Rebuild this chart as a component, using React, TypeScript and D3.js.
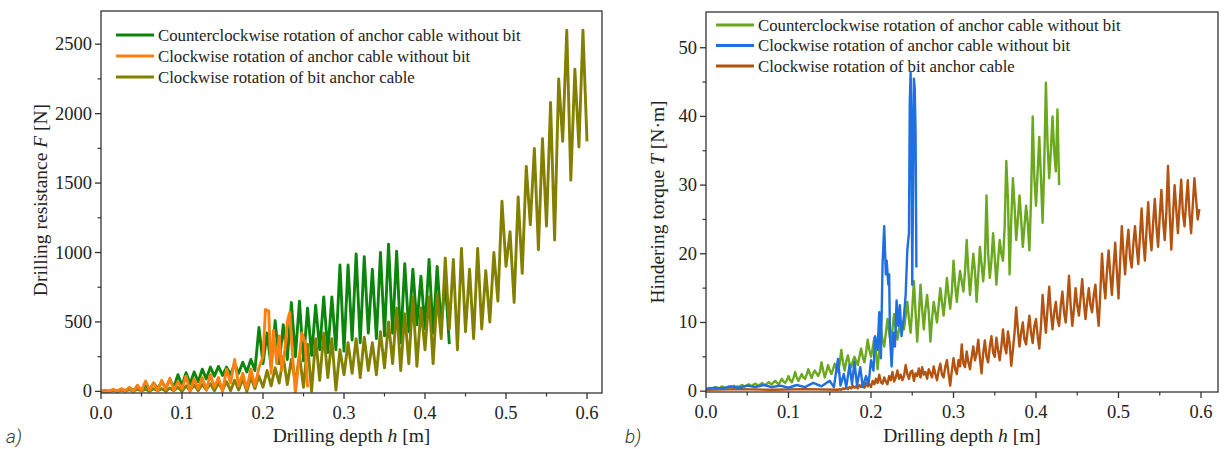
import React from "react";
import * as d3 from "d3";

// ---------- data (panel a: drilling resistance F [N]) ----------
const leftStep = 0.005; // depth step [m]
const forceCCW = [
  0, 5, 0, 10, 2, 15, 5, 25, 8, 35,
  10, 45, 15, 60, 20, 70, 25, 85, 30, 120,
  40, 135, 55, 140, 70, 160, 90, 175, 110, 180,
  115, 175, 120, 200, 130, 210, 140, 230, 150, 460,
  200, 420, 180, 510, 200, 480, 230, 640, 250, 650,
  220, 600, 260, 620, 300, 680, 280, 680, 300, 910,
  290, 910, 370, 990, 350, 970, 420, 880, 380, 1000,
  400, 1060, 420, 1010, 350, 920, 430, 880, 480, 830,
  450, 950, 420, 900, 470, 800, 340,
];
const forceCWPairs: [number, number][] = [
  [0, 0], [0.005, 8], [0.01, 0], [0.015, 15], [0.02, 0], [0.025, 20], [0.03, 5], [0.035, 30],
  [0.04, 0], [0.045, 45], [0.05, 5], [0.055, 75], [0.06, 10], [0.065, 60], [0.07, 5], [0.075, 80],
  [0.08, 15], [0.085, 95], [0.09, 10], [0.095, 70], [0.1, 20], [0.105, 110], [0.11, 0], [0.115, 90],
  [0.12, 20], [0.125, 100], [0.13, 10], [0.135, 120], [0.14, 30], [0.145, 100], [0.15, 0], [0.155, 160],
  [0.16, 60], [0.165, 230], [0.17, 40], [0.175, 130], [0.18, 20], [0.185, 160], [0.19, 40], [0.195, 170],
  [0.2, 250], [0.203, 590], [0.207, 580], [0.21, 130], [0.213, 440], [0.217, 200], [0.22, 400],
  [0.223, 150], [0.227, 300], [0.23, 500], [0.233, 570], [0.236, 300], [0.24, -10], [0.244, 200],
  [0.248, 420], [0.252, 350], [0.255, 30],
];
const forceBit = [
  0, 5, 0, 8, 0, 10, 2, 12, 0, 15,
  3, 15, 0, 20, 5, 20, 0, 25, 5, 30,
  0, 40, 5, 45, 5, 50, 10, 55, 5, 60,
  10, 70, 5, 80, 10, 90, 0, 100, 20, 110,
  30, 150, 40, 170, 60, 250, 50, 230, 60, 260,
  30, 340, 0, 380, 80, 420, 100, 380, 10, 300,
  120, 350, 130, 380, 100, 390, 150, 350, 120, 430,
  170, 500, 200, 600, 150, 560, 200, 680, 180, 600,
  300, 680, 200, 700, 380, 960, 450, 950, 300, 1030,
  430, 880, 380, 1030, 450, 870, 500, 1000, 650, 1370,
  900, 1150, 640, 1400, 850, 1620, 1200, 1750, 1020, 1820,
  1190, 2080, 1090, 2250, 1800, 2600, 1520, 2320, 1760, 2600,
  1800,
];

// ---------- data (panel b: hindering torque T [N·m]) ----------
const torqueStep = 0.002;
const torqueCCW = [
  0.3, 0.4, 0.5, 0.4, 0.4, 0.5, 0.6, 0.5, 0.4, 0.6,
  0.7, 0.5, 0.5, 0.6, 0.7, 0.6, 0.6, 0.8, 0.6, 0.7,
  0.6, 0.8, 0.9, 0.7, 0.7, 0.9, 1.0, 0.8, 0.8, 1.0,
  1.1, 0.9, 0.8, 1.0, 1.2, 1.0, 0.9, 1.1, 1.3, 1.1,
  1.0, 1.3, 1.5, 1.2, 1.0, 1.4, 1.8, 1.4, 1.2, 1.6,
  2.2, 1.6, 1.3, 1.9, 2.8, 2.0, 1.5, 2.0, 2.5, 2.0,
  1.8, 2.4, 3.2, 2.5, 1.9, 2.6, 3.0, 2.6, 2.2, 2.8,
  4.2, 3.0, 2.0, 2.9, 3.8, 3.0, 2.5, 3.2, 4.0, 3.3,
  2.8, 4.0, 6.0, 4.2, 3.0, 4.3, 5.2, 4.0, 3.5, 4.4,
  5.0, 4.4, 3.8, 5.0, 6.2, 5.0, 4.2, 5.6, 7.5, 6.0,
  5.0, 6.2, 7.8, 5.5, 3.2, 6.0, 9.0, 7.5, 6.5, 8.5,
  10.5, 8.6, 7.0, 9.0, 11.2, 9.2, 7.5, 9.0, 10.0, 9.5,
  9.0, 11.0, 13.0, 10.5, 8.5, 12.0, 16.0, 11.5, 7.2, 11.0,
  15.5, 12.0, 9.0, 12.0, 14.0, 11.5, 7.2, 10.5, 13.0, 11.5,
  10.0, 12.5, 15.0, 13.0, 11.0, 13.5, 16.5, 14.0, 12.0, 14.5,
  19.0, 15.5, 13.0, 15.5, 17.5, 16.0, 14.5, 17.5, 22.0, 17.5,
  14.0, 17.0, 20.0, 17.5, 13.0, 17.0, 21.0, 18.5, 16.0, 19.0,
  28.5, 20.0, 16.5, 19.0, 23.0, 19.5, 15.5, 19.0, 22.0, 20.0,
  19.0, 24.0, 33.5, 28.0, 17.0, 25.0, 31.0, 27.0, 22.0, 25.0,
  28.5, 25.0, 21.0, 24.0, 27.0, 24.5, 20.5, 28.0, 40.0, 31.0,
  27.0, 32.0, 37.0, 31.0, 24.5, 33.0, 44.9, 36.0, 31.0, 35.0,
  40.0, 35.0, 32.0, 41.0, 30.0,
];
const torqueCWPairs: [number, number][] = [
  [0, 0.3], [0.01, 0.5], [0.02, 0.4], [0.03, 0.7], [0.04, 0.5], [0.05, 0.8], [0.06, 0.6],
  [0.07, 0.9], [0.08, 0.6], [0.09, 0.8], [0.1, 0.5], [0.11, 0.9], [0.12, 0.6], [0.13, 1.2],
  [0.14, 0.7], [0.15, 1.5], [0.155, 0.6], [0.16, 4.7], [0.163, 0.8], [0.167, 2.5], [0.17, 0.6],
  [0.174, 3.8], [0.177, 1.0], [0.18, 4.3], [0.183, 0.8], [0.187, 3.5], [0.19, 0.6], [0.194, 2.2],
  [0.197, 1.0], [0.2, 4.5], [0.203, 3.0], [0.205, 8.0], [0.208, 6.0], [0.21, 11.5], [0.212, 4.8],
  [0.214, 18.5], [0.216, 24.0], [0.218, 17.0], [0.219, 19.0], [0.221, 15.5], [0.222, 17.0],
  [0.223, 8.0], [0.225, 3.6], [0.227, 8.5], [0.229, 6.5], [0.231, 13.2], [0.233, 9.5],
  [0.235, 12.5], [0.237, 8.0], [0.24, 11.0], [0.242, 14.0], [0.244, 20.5], [0.246, 23.0],
  [0.247, 42.0], [0.248, 46.4], [0.249, 40.0], [0.25, 15.5], [0.251, 30.0], [0.252, 45.5],
  [0.253, 44.0], [0.254, 38.0], [0.255, 18.0],
];
const torqueBitStart = 0.16; // depth where the bit-cable torque record becomes visible
const torqueBit = [
  0.2, 0.3, 0.2, 0.4, 0.3, 0.5, 0.3, 0.6, 0.4, 0.8,
  0.5, 0.7, 0.4, 0.9, 0.6, 1.0, 0.5, 1.2, 0.7, 1.0,
  0.6, 1.5, 1.0, 1.8, 1.2, 2.4, 1.3, 1.1, 2.0, 1.4,
  1.0, 2.2, 1.6, 2.8, 1.4, 2.0, 3.0, 1.8, 2.4, 1.6,
  2.2, 3.8, 2.5, 1.8, 2.8, 3.0, 1.5, 2.6, 2.2, 3.3,
  2.0, 3.5, 2.4, 2.8, 1.8, 3.2, 2.6, 2.0, 3.6, 2.5,
  1.6, 3.0, 4.0, 2.4, 2.0, 3.5, 4.5, 2.6, 0.8, 3.0,
  4.8, 3.2, 2.5, 4.5, 3.6, 6.8, 4.0, 3.5, 5.8, 4.2,
  3.2, 5.0, 6.5, 4.5, 5.5, 7.5, 4.8, 2.6, 5.5, 7.4,
  5.0, 4.2, 6.5, 8.0, 5.6, 5.0, 7.8, 6.0, 4.5, 6.5,
  9.0, 6.5, 5.5, 8.7, 7.0, 3.7, 6.0, 8.5, 12.2, 9.0,
  6.5, 8.5, 10.0, 7.5, 6.8, 9.0, 11.0, 8.5, 7.0, 9.5,
  10.5, 8.0, 6.2, 9.5, 14.0, 11.0, 8.5, 12.0, 15.2, 11.5,
  9.0, 11.5, 13.0, 10.5, 9.5, 12.5, 14.5, 11.5, 10.0, 13.0,
  16.8, 12.5, 9.5, 12.0, 15.0, 12.5, 11.0, 13.5, 16.3, 13.0,
  10.5, 13.0, 15.0, 12.5, 11.5, 14.0, 15.5, 12.0, 9.5, 14.5,
  20.0, 16.0, 13.5, 17.5, 20.5, 17.0, 14.0, 18.0, 21.6, 17.5,
  13.5, 19.0, 24.0, 20.0, 17.0, 21.0, 23.5, 19.5, 18.0, 21.5,
  24.0, 21.0, 18.5, 22.5, 26.6, 22.0, 19.0, 23.5, 27.5, 23.0,
  20.5, 24.5, 28.0, 24.0, 21.0, 25.5, 29.3, 25.0, 22.0, 26.0,
  32.8, 26.0, 20.6, 25.5, 30.0, 26.5, 23.0, 27.0, 30.8, 26.0,
  24.0, 27.5, 30.7, 26.0, 23.0, 27.0, 31.0, 28.0, 25.0, 26.5,
];
const torqueBitLead: [number, number][] = [
  [0, 0.2], [0.04, 0.3], [0.08, 0.2], [0.12, 0.3], [0.16, 0.2],
];

const xTicks = [0, 0.1, 0.2, 0.3, 0.4, 0.5, 0.6];
const xMinor = [0.05, 0.15, 0.25, 0.35, 0.45, 0.55];
const forceTicks = [0, 500, 1000, 1500, 2000, 2500];
const forceMinor = [250, 750, 1250, 1750, 2250];
const torqueTicks = [0, 10, 20, 30, 40, 50];
const torqueMinor = [5, 15, 25, 35, 45];

const legendLabels = [
  "Counterclockwise rotation of anchor cable without bit",
  "Clockwise rotation of anchor cable without bit",
  "Clockwise rotation of bit anchor cable",
];

const toPairs = (vals: number[], step: number, start = 0): [number, number][] =>
  vals.map((v, i) => [start + i * step, v]);

const SERIF = "'Liberation Serif', 'Times New Roman', serif";

type Series = { data: [number, number][]; color: string };
type PanelDef = {
  x0: number; x1: number; y0: number; y1: number;
  xDomain: [number, number]; yDomain: [number, number];
  yTicks: number[]; yMinor: number[];
  series: Series[]; legendColors: string[];
  legendX: number; legendY: number; legendDy: number;
  yTitle: React.ReactNode; yTitleX: number; yTitleY: number;
  tag: string; tagX: number; strokeW: number;
};

function Panel({ p }: { p: PanelDef }) {
  const x = d3.scaleLinear().domain(p.xDomain).range([p.x0, p.x1]);
  const y = d3.scaleLinear().domain(p.yDomain).range([p.y1, p.y0]);
  const line = d3.line<[number, number]>().x((d) => x(d[0])).y((d) => y(d[1]));
  const clipId = "clip" + p.tag.replace(")", "");
  const axisCol = "#333";
  return (
    <g>
      <defs>
        <clipPath id={clipId}>
          <rect x={p.x0} y={p.y0} width={p.x1 - p.x0} height={p.y1 - p.y0} />
        </clipPath>
      </defs>
      <g clipPath={`url(#${clipId})`}>
        {p.series.map((s, i) => (
          <path key={i} d={line(s.data) || ""} fill="none" stroke={s.color}
            strokeWidth={p.strokeW} strokeLinejoin="round" />
        ))}
      </g>
      <rect x={p.x0} y={p.y0} width={p.x1 - p.x0} height={p.y1 - p.y0}
        fill="none" stroke={axisCol} strokeWidth={1.3} />
      {xTicks.map((t) => (
        <g key={"xt" + t}>
          <line x1={x(t)} x2={x(t)} y1={p.y1} y2={p.y1 + 6} stroke={axisCol} strokeWidth={1.3} />
          <text x={x(t)} y={p.y1 + 26} textAnchor="middle" fontFamily={SERIF}
            fontSize={18.5} fill="#222">{t.toFixed(1)}</text>
        </g>
      ))}
      {xMinor.map((t) => (
        <line key={"xm" + t} x1={x(t)} x2={x(t)} y1={p.y1} y2={p.y1 + 3.5}
          stroke={axisCol} strokeWidth={1.2} />
      ))}
      {p.yTicks.map((t) => (
        <g key={"yt" + t}>
          <line x1={p.x0 - 6} x2={p.x0} y1={y(t)} y2={y(t)} stroke={axisCol} strokeWidth={1.3} />
          <text x={p.x0 - 9} y={y(t) + 6} textAnchor="end" fontFamily={SERIF}
            fontSize={18.5} fill="#222">{t}</text>
        </g>
      ))}
      {p.yMinor.map((t) => (
        <line key={"ym" + t} x1={p.x0 - 3.5} x2={p.x0} y1={y(t)} y2={y(t)}
          stroke={axisCol} strokeWidth={1.2} />
      ))}
      <text x={(p.x0 + p.x1) / 2} y={442} textAnchor="middle" fontFamily={SERIF}
        fontSize={19.5} fill="#222">
        Drilling depth <tspan fontStyle="italic">h</tspan> [m]
      </text>
      <text transform={`translate(${p.yTitleX},${p.yTitleY}) rotate(-90)`} textAnchor="middle"
        fontFamily={SERIF} fontSize={19.5} fill="#222">
        {p.yTitle}
      </text>
      {legendLabels.map((lab, i) => (
        <g key={"lg" + i}>
          <line x1={p.legendX} x2={p.legendX + 38} y1={p.legendY + i * p.legendDy}
            y2={p.legendY + i * p.legendDy} stroke={p.legendColors[i]} strokeWidth={3} />
          <text x={p.legendX + 42} y={p.legendY + i * p.legendDy + 5.5} fontFamily={SERIF}
            fontSize={16.8} fill="#222">{lab}</text>
        </g>
      ))}
      <text x={p.tagX} y={443} fontFamily="Roboto, 'Noto Sans', sans-serif" fontWeight={300}
        fontStyle="italic" fontSize={19} fill="#333">{p.tag}</text>
    </g>
  );
}

export default function App() {
  const leftColors = ["#0b860b", "#ff8010", "#838000"];
  const rightColors = ["#6aa81e", "#1f6fe0", "#b4530f"];
  const left: PanelDef = {
    x0: 101, x1: 602, y0: 11, y1: 393,
    xDomain: [0, 0.6185], yDomain: [-11.5, 2739],
    yTicks: forceTicks, yMinor: forceMinor,
    series: [
      { data: toPairs(forceCCW, leftStep), color: leftColors[0] },
      { data: toPairs(forceBit, leftStep), color: leftColors[2] },
      { data: forceCWPairs, color: leftColors[1] },
    ],
    legendColors: leftColors,
    legendX: 116, legendY: 35, legendDy: 21,
    yTitle: (<>Drilling resistance <tspan fontStyle="italic">F</tspan> [N]</>),
    yTitleX: 47, yTitleY: 200, tag: "a)", tagX: 6, strokeW: 2.9,
  };
  const right: PanelDef = {
    x0: 706, x1: 1218, y0: 12, y1: 392,
    xDomain: [0, 0.6206], yDomain: [-0.12, 55.2],
    yTicks: torqueTicks, yMinor: torqueMinor,
    series: [
      { data: torqueBitLead.concat(toPairs(torqueBit, torqueStep, torqueBitStart)), color: rightColors[2] },
      { data: toPairs(torqueCCW, torqueStep), color: rightColors[0] },
      { data: torqueCWPairs, color: rightColors[1] },
    ],
    legendColors: rightColors,
    legendX: 716, legendY: 25, legendDy: 20.5,
    yTitle: (<>Hindering torque <tspan fontStyle="italic">T</tspan> [N·m]</>),
    yTitleX: 664, yTitleY: 202, tag: "b)", tagX: 625, strokeW: 2.4,
  };
  return (
    <svg width={1226} height={449} viewBox="0 0 1226 449"
      style={{ position: "absolute", left: 0, top: 0, background: "#fff", display: "block" }}>
      <rect x={0} y={0} width={1226} height={449} fill="#fff" />
      <Panel p={left} />
      <Panel p={right} />
    </svg>
  );
}
